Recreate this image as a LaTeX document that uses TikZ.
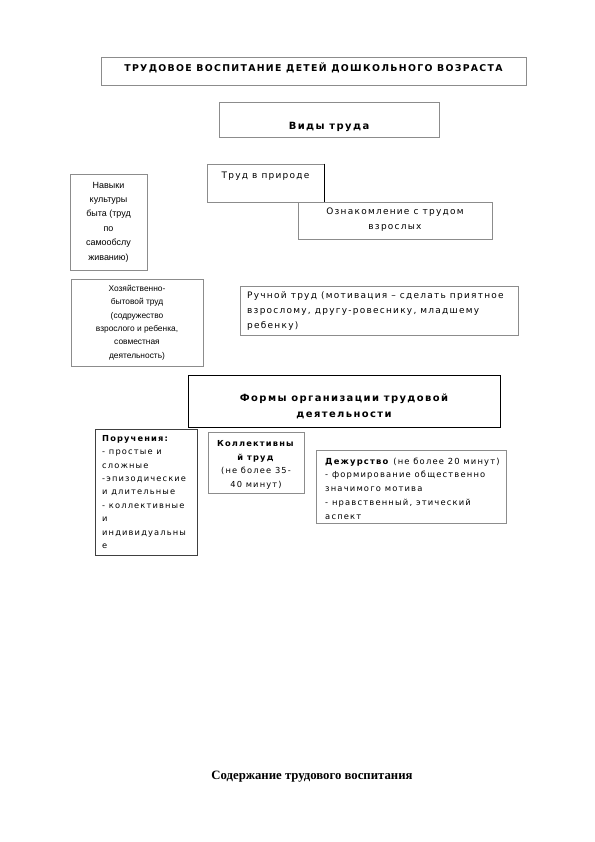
\documentclass[tikz,border=0pt]{standalone}
\usepackage{fontspec}
\setmainfont{DejaVu Sans}[LetterSpace=14]
\newfontfamily\arialfont{Liberation Sans}
\newfontfamily\serifbold{Liberation Serif}[BoldFont={Liberation Serif Bold}]

\tikzset{
  box/.style={draw=black!45, line width=0.6pt, inner sep=0pt},
  txt/.style={font=\fontsize{9}{15}\selectfont, inner sep=0pt, align=center},
  smalltxt/.style={font=\fontsize{8.3}{13.5}\selectfont, inner sep=0pt, align=center},
  narrowtxt/.style={font=\arialfont\fontsize{8.4}{13.4}\selectfont, inner sep=0pt, align=center},
  head/.style={font=\fontsize{10}{15.5}\selectfont\bfseries, inner sep=0pt, align=center},
}

\begin{document}
\begin{tikzpicture}[x=1bp,y=-1bp]
  \useasboundingbox (0,0) rectangle (595,842);

  % headings
  \node[box, minimum width=425bp, minimum height=28bp] (titel) at (313.5,71) {};
  \node[head, font=\fontsize{9.4}{12}\selectfont\bfseries] at (313.5,67.5) {ТРУДОВОЕ ВОСПИТАНИЕ ДЕТЕЙ ДОШКОЛЬНОГО ВОЗРАСТА};
  \node[box, minimum width=220bp, minimum height=35bp] (vidy) at (329,119.5) {};
  \node[head] at (329,126.5) {Виды труда};

  % kinds of work
  \node[box, minimum width=77bp, minimum height=96bp] (navyki) at (108.5,222) {};
  \node[narrowtxt, font=\arialfont\fontsize{9}{14.4}\selectfont] at (navyki) {Навыки\\культуры\\быта (труд\\по\\самообслу\\живанию)};
  \node[box, minimum width=117bp, minimum height=38bp] (priroda) at (265.5,183) {};
  \draw[black, line width=0.8pt] (priroda.north east) -- (priroda.south east);
  \node[txt] at (265.5,176) {Труд в природе};
  \node[box, minimum width=194bp, minimum height=37bp] (oznak) at (395,220.5) {};
  \node[txt] at (395,219.5) {Ознакомление с трудом\\взрослых};
  \node[box, minimum width=132bp, minimum height=87bp] (hozbyt) at (137,322.5) {};
  \node[narrowtxt] at (137,322.5) {Хозяйственно-\\бытовой труд\\(содружество\\взрослого и ребенка,\\совместная\\деятельность)};
  \node[box, minimum width=278bp, minimum height=49bp] (ruchnoj) at (379,310.5) {};
  \node[txt, align=left, anchor=west] at (247,311) {Ручной труд (мотивация – сделать приятное\\взрослому, другу-ровеснику, младшему\\ребенку)};

  % forms
  \node[box, draw=black, minimum width=312bp, minimum height=52bp] (formy) at (344,401) {};
  \node[head] at (344,406.5) {Формы организации трудовой\\деятельности};
  \node[box, draw=black!75, minimum width=102bp, minimum height=126bp] (poruch) at (146,492) {};
  \node[smalltxt, align=left, anchor=west] at (102,492) {\textbf{Поручения:}\\- простые и\\сложные\\-эпизодические\\и длительные\\- коллективные\\и\\индивидуальны\\е};
  \node[box, minimum width=96bp, minimum height=61bp] (koll) at (256,462.5) {};
  \node[smalltxt] at (256,465) {\textbf{Коллективны}\\\textbf{й труд}\\(не более 35-\\40 минут)};
  \node[box, minimum width=190bp, minimum height=73bp] (dezh) at (411,486.5) {};
  \node[smalltxt, align=left, anchor=west, font=\fontsize{8.4}{13.8}\selectfont] at (325,488.5) {\textbf{Дежурство} (не более 20 минут)\\- формирование общественно\\значимого мотива\\- нравственный, этический\\аспект};

  % caption
  \node[inner sep=0pt, font=\serifbold\fontsize{12.8}{14}\selectfont\bfseries] (podpis) at (312,777) {Содержание трудового воспитания};
\end{tikzpicture}
\end{document}
